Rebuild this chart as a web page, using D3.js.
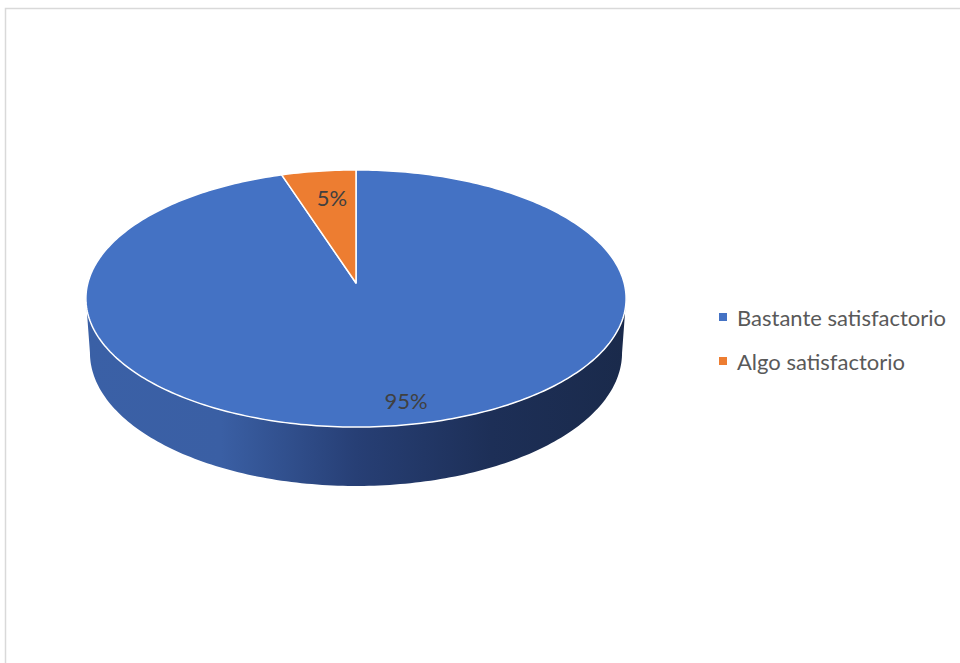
<!DOCTYPE html>
<html>
<head>
<meta charset="utf-8">
<script src="https://cdn.jsdelivr.net/npm/d3@7"></script>
<style>
  html, body { margin: 0; padding: 0; background: #fff; }
  svg { display: block; }
  text { font-family: "Lato", "Open Sans", sans-serif; }
</style>
</head>
<body>
<svg id="chart" width="960" height="663"></svg>
<script>
// Survey responses
const categories = ["Bastante satisfactorio", "Algo satisfactorio"];
const values = [95, 5];
const labels = ["95%", "5%"];
const colors = ["#4472c4", "#ed7d31"];

const svg = d3.select("#chart");

// Chart frame
svg.append("rect")
  .attr("x", 5.5).attr("y", 8.5)
  .attr("width", 1000).attr("height", 700)
  .attr("fill", "none")
  .attr("stroke", "#d9d9d9")
  .attr("stroke-width", 1.5);

// Perspective projection of a flat disc (radius 1) seen from above at an angle
const cx = 356, cy = 283;
const tilt = Math.asin(0.4726);
const sa = Math.sin(tilt), ca = Math.cos(tilt);
const focal = 1960, dist = 7.31, thick = 0.232;

// angle measured clockwise from 12 o'clock; h = drop below the top face
function project(angle, r, h) {
  const x = r * Math.sin(angle);
  const z = -r * Math.cos(angle);      // positive toward the viewer
  const depth = dist - z * ca + h * sa;
  return [cx + focal * x / depth, cy + focal * (z * sa + h * ca) / depth];
}

const pie = d3.pie().sort(null).value(d => d)
  .startAngle(0).endAngle(2 * Math.PI);
const arcs = pie(values);

const line = d3.line();
const N = 360;

function ring(a0, a1, h) {
  const pts = [];
  const n = Math.max(2, Math.ceil(N * Math.abs(a1 - a0) / (2 * Math.PI)));
  for (let i = 0; i <= n; i++) pts.push(project(a0 + (a1 - a0) * i / n, 1, h));
  return pts;
}

// Silhouette angles (left- and right-most points) of a ring
function extremes(h) {
  let lo = null, hi = null;
  for (let i = 0; i < 3600; i++) {
    const a = i / 3600 * 2 * Math.PI;
    const p = project(a, 1, h);
    if (!lo || p[0] < lo.p[0]) lo = { a, p };
    if (!hi || p[0] > hi.p[0]) hi = { a, p };
  }
  return { lo, hi };
}
const topEx = extremes(0), botEx = extremes(thick);

// Outer wall: top rim right→front→left, then bottom rim left→front→right
const wall = ring(topEx.hi.a, topEx.lo.a, 0)
  .concat(ring(botEx.lo.a, botEx.hi.a, thick));

const defs = svg.append("defs");
const grad = defs.append("linearGradient")
  .attr("id", "wallShade")
  .attr("gradientUnits", "userSpaceOnUse")
  .attr("x1", topEx.lo.p[0]).attr("x2", topEx.hi.p[0])
  .attr("y1", 0).attr("y2", 0);
[[0, "#3a60a6"], [0.25, "#3a5fa4"], [0.5, "#273f75"], [0.75, "#1d2f57"], [1, "#1a2a4b"]]
  .forEach(([o, c]) => grad.append("stop").attr("offset", o).attr("stop-color", c));

svg.append("path")
  .attr("d", line(wall) + "Z")
  .attr("fill", "url(#wallShade)");

// Top face slices
const center = project(0, 0, 0);
svg.append("g").selectAll("path")
  .data(arcs)
  .join("path")
  .attr("d", d => line([center].concat(ring(d.startAngle, d.endAngle, 0))) + "Z")
  .attr("fill", (d, i) => colors[i])
  .attr("stroke", "#fff")
  .attr("stroke-width", 1.5)
  .attr("stroke-linejoin", "round");

// Value labels
const labelPos = [[406, 400], [332, 197]];
svg.append("g").selectAll("text")
  .data(arcs)
  .join("text")
  .attr("x", (d, i) => labelPos[i][0])
  .attr("y", (d, i) => labelPos[i][1])
  .attr("text-anchor", "middle")
  .attr("dominant-baseline", "central")
  .attr("font-size", 22)
  .attr("fill", "#404040")
  .text((d, i) => labels[i]);

// Legend
const legend = svg.append("g");
const rows = legend.selectAll("g")
  .data(categories)
  .join("g")
  .attr("transform", (d, i) => `translate(719, ${317 + i * 44})`);
rows.append("rect")
  .attr("x", 0).attr("y", -4)
  .attr("width", 8).attr("height", 8)
  .attr("fill", (d, i) => colors[i]);
rows.append("text")
  .attr("x", 18).attr("y", 0)
  .attr("dominant-baseline", "central")
  .attr("font-size", 22)
  .attr("fill", "#595959")
  .text(d => d);
</script>
</body>
</html>
